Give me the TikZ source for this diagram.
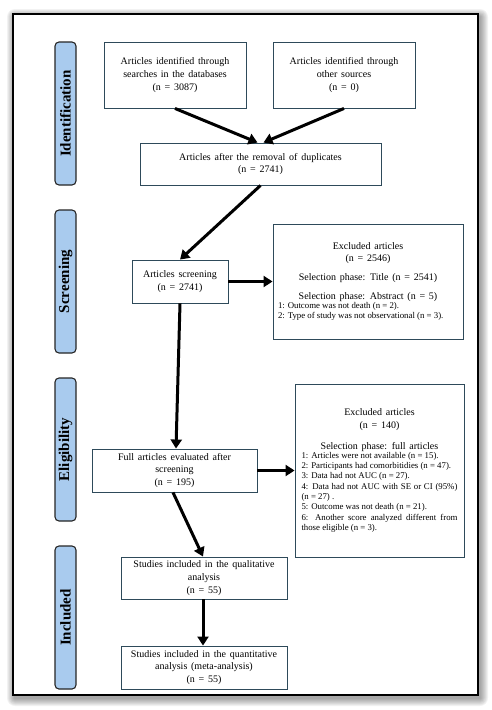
\documentclass[tikz,border=0pt]{standalone}
\usepackage{fontspec}
\setmainfont{Liberation Serif}[WordSpace=1.5]
\newfontfamily\listfont{Liberation Serif}
\usetikzlibrary{arrows.meta,positioning}

\definecolor{stageblue}{HTML}{A9CBEE}
\definecolor{boxline}{HTML}{2E4A5A}
\newcommand{\mainsize}{\fontsize{10}{12.8}\selectfont}
\newcommand{\listsize}{\listfont\fontsize{8.8}{10.3}\selectfont}

\begin{document}
\begin{tikzpicture}[
  x=1pt, y=-1pt,
  font=\mainsize,
  stage/.style={draw=black!85, fill=stageblue, line width=1.1pt, rounded corners=4pt, rotate=90,
    minimum width=143pt, minimum height=21pt, inner sep=0pt, font=\listfont\fontsize{15}{17}\selectfont\bfseries},
  box/.style={draw=boxline, line width=0.9pt, align=center, inner sep=2pt},
  arrow/.style={-{Triangle[length=9pt,width=11pt]}, line width=3pt}
]
\useasboundingbox (0,0) rectangle (491,710);
% page frame with soft shadow
\foreach \d in {1,...,8}
  \fill[black, opacity=0.05, rounded corners=\d pt] (13-\d+2,14-\d+3) rectangle (478+\d+2,695+\d+3);
\draw[fill=white, line width=1.5pt] (13,14) rectangle (478,695);

% stages
\node[stage] (sid) at (65.5,113.5) {Identification};
\node[stage] (sscr) at (65.5,281.5) {Screening};
\node[stage] (selig) at (65.5,449.5) {Eligibility};
\node[stage] (sinc) at (65.5,617.5) {Included};

% identification
\node[box, minimum width=142pt, minimum height=66pt] (db) at (175,75)
  {Articles identified through\\searches in the databases\\(n = 3087)};
\node[box, minimum width=142pt, minimum height=66pt] (other) at (344,75)
  {Articles identified through\\other sources\\(n = 0)};
\node[box, minimum width=241pt, minimum height=42pt] (dup) at (260.5,164)
  {Articles after the removal of duplicates\\(n = 2741)};

% screening
\node[box, minimum width=96pt, minimum height=43pt] (scr) at (180,281.5)
  {Articles screening\\(n = 2741)};
\node[box, minimum width=190pt, minimum height=115pt] (exc1) at (368,281.5)
  {Excluded articles\\(n = 2546)\\[6pt]Selection phase: Title (n = 2541)\\[6pt]Selection phase: Abstract (n = 5)\\
   {\listsize\parbox{180pt}{1: Outcome was not death (n = 2).\par
   2: Type of study was not observational (n = 3).}}};

% eligibility
\node[box, minimum width=169pt, minimum height=173pt] (exc2) at (379.5,470.5)
  {Excluded articles\\(n = 140)\\[8pt]Selection phase: full articles\\
   {\listsize\parbox{156pt}{1: Articles were not available (n = 15).\par
   2: Participants had comorbitidies (n = 47).\par
   3: Data had not AUC (n = 27).\par
   4: Data had not AUC with SE or CI (95\%)\linebreak (n = 27) .\par
   5: Outcome was not death (n = 21).\par
   6: Another score analyzed different from\linebreak those eligible (n = 3).}}};
\node[box, minimum width=165pt, minimum height=43pt] (full) at (174.5,470.5)
  {Full articles evaluated after\\screening\\(n = 195)};

% included
\node[box, minimum width=166pt, minimum height=42pt] (qual) at (204,578)
  {Studies included in the qualitative\\analysis\\(n = 55)};
\node[box, minimum width=166pt, minimum height=43pt] (quant) at (204,667.5)
  {Studies included in the quantitative\\analysis (meta-analysis)\\(n = 55)};

% flow
\draw[arrow] (db.south) -- ([xshift=-3pt]dup.north);
\draw[arrow] (other.south) -- ([xshift=3pt]dup.north);
\draw[arrow] (dup.south) -- (scr.north);
\draw[arrow] (scr.east) -- (exc1.west);
\draw[arrow] (scr.south) -- ([xshift=1.5pt]full.north);
\draw[arrow] (full.east) -- (exc2.west);
\draw[arrow] ([xshift=-1.5pt]full.south) -- ([xshift=-1pt]qual.north);
\draw[arrow] ([xshift=-1pt]qual.south) -- ([xshift=-1pt]quant.north);
\end{tikzpicture}
\end{document}
